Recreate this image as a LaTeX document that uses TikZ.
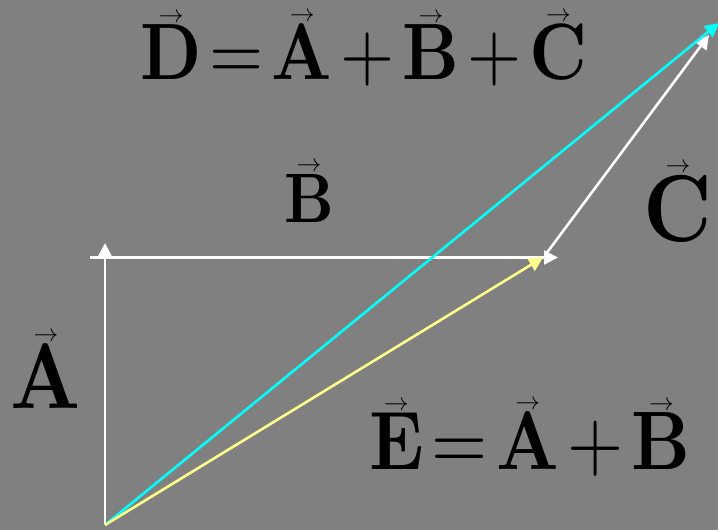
\documentclass[tikz,border=0pt]{standalone}
\usepackage{fontspec}
\setmainfont{lmroman10}[Extension=.otf,UprightFont=*-regular,BoldFont=*-bold,FakeStretch=0.87]
\usetikzlibrary{arrows.meta}
\definecolor{dvec}{rgb}{0,1,1}
\definecolor{evec}{rgb}{1,1,0.55}
\tikzset{vec/.style={line width=2.6bp,-{Triangle[length=14bp,width=14bp]}},
  lbl/.style={anchor=base,inner sep=0pt,font=\bfseries}}
\newsavebox\vbbox
\newcommand\vb[1]{\sbox\vbbox{#1}\rlap{\hbox to\wd\vbbox{\hss\raisebox{\dimexpr\ht\vbbox+3bp\relax}{\fontsize{37bp}{37bp}\selectfont$\rightarrow$}\hss}}\usebox\vbbox}
\newcommand\op[1]{\hspace{.1em}{\mdseries#1}\hspace{.1em}}

\begin{document}
\begin{tikzpicture}[x=1bp,y=1bp,line join=round]
\fill[gray] (0,0) rectangle (718,530);
\useasboundingbox (0,0) rectangle (718,530);
% --- points of the vector chain
\coordinate (o) at (105,5);
\coordinate (atip) at (105,287);
\coordinate (btail) at (90,272.5);
\coordinate (btip) at (558,272.5);
\coordinate (etip) at (543,272.5);
\coordinate (ctail) at (546,276);
\coordinate (ctip) at (709,495);
\coordinate (dtip) at (719,507);
% --- vectors
\draw[vec,white] (o) -- (atip);
\draw[vec,white] (btail) -- (btip);
\draw[vec,white] (ctail) -- (ctip);
\draw[vec,dvec] (o) -- (dtip);
\draw[vec,evec] (o) -- (etip);
% --- labels
\node[lbl,font=\bfseries\fontsize{80bp}{80bp}\selectfont] (dsum) at (364,450) {\vb{D}\op{=}\vb{A}\op{+}\vb{B}\op{+}\vb{C}};
\node[lbl,font=\bfseries\fontsize{83bp}{83bp}\selectfont] (esum) at (530,60) {\vb{E}\op{=}\vb{A}\op{+}\vb{B}};
\node[lbl,font=\bfseries\fontsize{70bp}{70bp}\selectfont] (blbl) at (309,307) {\vb{B}};
\node[lbl,font=\bfseries\fontsize{95bp}{95bp}\selectfont] (clbl) at (678,288) {\vb{C}};
\node[lbl,font=\bfseries\fontsize{93bp}{93bp}\selectfont] (albl) at (46,121) {\vb{A}};
\end{tikzpicture}
\end{document}
